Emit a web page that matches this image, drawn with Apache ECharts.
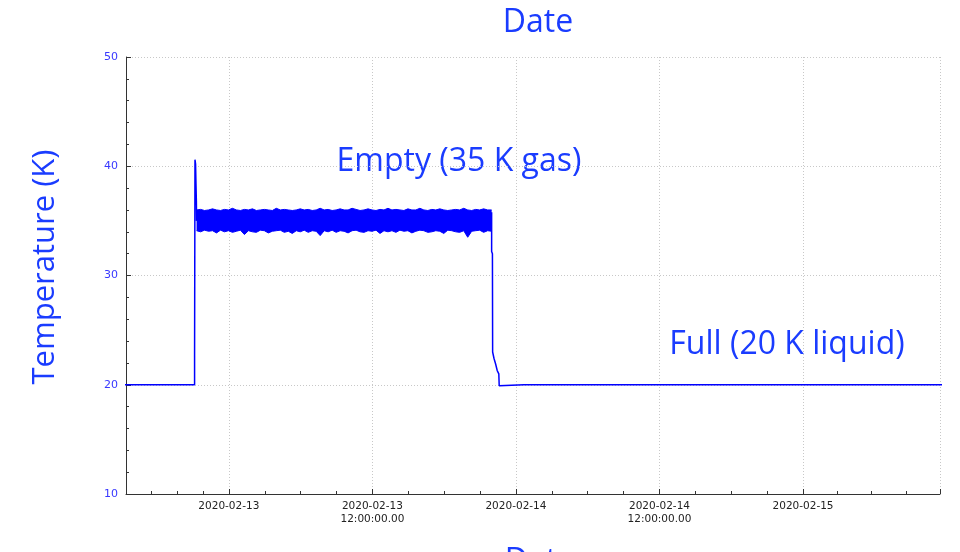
<!DOCTYPE html>
<html>
<head>
<meta charset="utf-8">
<script src="https://cdn.jsdelivr.net/npm/echarts@6/dist/echarts.min.js"></script>
<style>
html, body { margin: 0; background: #fff; }
#chart { width: 960px; height: 552px; }
</style>
</head>
<body>
<div id="chart"></div>
<script>
// baseline at 20 K, then the jump to the gas plateau
const riseData = [
    ['2020-02-12 12:00', 20], ['2020-02-12 21:08', 20], ['2020-02-12 21:08', 22.6],
    ['2020-02-12 21:10', 22.6], ['2020-02-12 21:10', 40.6], ['2020-02-12 21:13', 40.2],
    ['2020-02-12 21:15', 38.4], ['2020-02-12 21:17', 36.8], ['2020-02-12 21:18', 35.0]
]

// noisy plateau: upper / lower envelope, one reading every 20 min
const bandStart = '2020-02-12 21:18'
const bandStepMin = 20
const bandHigh = [
    36.0, 36.05, 35.95, 36.0, 36.1, 36.0, 35.95, 36.05, 36.0, 36.15, 36.0, 35.95, 36.05, 36.0, 36.1,
    35.95, 36.0, 36.05, 36.0, 35.95, 36.15, 36.0, 36.05, 36.0, 35.95, 36.0, 36.1, 36.0, 36.05, 35.95,
    36.0, 36.15, 36.0, 36.05, 35.95, 36.0, 36.1, 36.0, 36.0, 36.15, 36.05, 35.95, 36.0, 36.1, 36.0,
    35.95, 36.05, 36.0, 36.15, 36.0, 36.05, 36.0, 35.95, 36.1, 36.0, 36.0, 36.15, 36.0, 35.95, 36.05,
    36.0, 36.1, 36.0, 35.95, 36.0, 36.05, 36.0, 36.15, 36.0, 35.95, 36.05, 36.0, 36.1, 36.0, 36.0
]
const bandLow = [
    34.1, 34.0, 34.15, 34.05, 34.1, 33.9, 34.15, 34.0, 34.1, 33.95, 34.05, 34.15, 33.75, 34.1, 34.0,
    33.95, 34.15, 34.1, 33.9, 34.05, 34.1, 34.15, 33.95, 34.05, 33.85, 34.1, 34.0, 34.15, 33.95, 34.1,
    34.05, 33.65, 34.1, 34.0, 34.15, 33.95, 34.1, 34.05, 33.9, 34.1, 34.15, 34.0, 33.95, 34.1, 34.05,
    34.15, 33.85, 34.1, 34.0, 34.1, 33.95, 34.15, 34.05, 34.1, 33.9, 34.05, 34.15, 34.1, 33.95, 34.0,
    34.1, 34.05, 33.85, 34.15, 34.1, 34.0, 33.95, 34.1, 33.5, 34.05, 34.1, 34.15, 33.95, 34.1, 34.05
]

// drop back to liquid at 20 K
const fallData = [
    ['2020-02-13 21:58', 35.8], ['2020-02-13 21:58', 32.2], ['2020-02-13 22:02', 32.0],
    ['2020-02-13 22:03', 23.0], ['2020-02-13 22:10', 22.4], ['2020-02-13 22:18', 21.9],
    ['2020-02-13 22:26', 21.3], ['2020-02-13 22:34', 21.0], ['2020-02-13 22:36', 19.9],
    ['2020-02-13 22:40', 20.0], ['2020-02-14 00:40', 20.0], ['2020-02-14 00:45', 20.06],
    ['2020-02-14 00:50', 20.0], ['2020-02-14 03:10', 20.0], ['2020-02-14 03:15', 20.05],
    ['2020-02-14 03:20', 20.0], ['2020-02-15 12:00', 20.0]
]

const xMin = '2020-02-12 15:24'
const xMax = '2020-02-15 11:27'
const yTicks = [10, 50, 10]   // min, max, step

const BLUE = '#0000ff'
const TEXT_BLUE = '#1a3cff'
const BIG_FONT = '"Open Sans"'

// stacked band: lower edge + span on top of it
const t0 = new Date(bandStart.replace(' ', 'T')).getTime()
const bandTimes = bandHigh.map((v, i) => t0 + i * bandStepMin * 60000)
const lowSeries = bandLow.map((v, i) => [bandTimes[i], v])
const spanSeries = bandHigh.map((v, i) => [bandTimes[i], +(v - bandLow[i]).toFixed(2)])

function fmtLabel(value) {
    const d = new Date(value)
    const p = n => String(n).padStart(2, '0')
    const day = d.getFullYear() + '-' + p(d.getMonth() + 1) + '-' + p(d.getDate())
    return d.getHours() === 12 ? day + '\n12:00:00.00' : day
}

const chart = echarts.init(document.getElementById('chart'))
chart.setOption({
    animation: false,
    grid: { left: 126, right: 20, top: 57, bottom: 58, outerBoundsMode: 'none' },
    xAxis: {
        type: 'time',
        min: xMin,
        max: xMax,
        // 14h approx -> the time scale picks 12h steps
        minInterval: 14 * 3600 * 1000,
        maxInterval: 14 * 3600 * 1000,
        name: 'Date',
        nameLocation: 'middle',
        nameGap: 52,
        nameTextStyle: { fontSize: 32, color: TEXT_BLUE, fontFamily: 'Open Sans', padding: [0, 0, 0, 14] },
        axisLine: { lineStyle: { color: '#333', width: 1 } },
        axisTick: { inside: true, length: 5, lineStyle: { color: '#333' } },
        minorTick: { show: true, splitNumber: 4, length: 3, lineStyle: { color: '#333' } },
        splitLine: { show: true, lineStyle: { color: '#c8c8c8', type: [1, 2] } },
        axisLabel: {
            formatter: fmtLabel,
            color: '#222',
            fontSize: 10.5,
            fontFamily: 'DejaVu Sans',
            lineHeight: 13,
            margin: 6,
            showMinLabel: false,
            showMaxLabel: false
        }
    },
    yAxis: {
        type: 'value',
        min: yTicks[0],
        max: yTicks[1],
        interval: yTicks[2],
        axisLine: { show: true, lineStyle: { color: '#333', width: 1 } },
        axisTick: { show: true, inside: true, length: 5, lineStyle: { color: '#333' } },
        minorTick: { show: true, splitNumber: 5, length: 3, lineStyle: { color: '#333' } },
        splitLine: { show: true, lineStyle: { color: '#c8c8c8', type: [1, 2] } },
        axisLabel: { color: '#3838ff', fontSize: 11, fontFamily: 'DejaVu Sans', margin: 8 }
    },
    graphic: [
        { type: 'text', x: 538, y: 23, style: { text: 'Date', fill: TEXT_BLUE, font: '32px ' + BIG_FONT, textAlign: 'center', textVerticalAlign: 'middle' } },
        { type: 'text', x: 45, y: 267, rotation: Math.PI / 2, style: { text: 'Temperature (K)', fill: TEXT_BLUE, font: '31px ' + BIG_FONT, textAlign: 'center', textVerticalAlign: 'middle' } },
        { type: 'text', x: 459, y: 162, style: { text: 'Empty (35 K gas)', fill: TEXT_BLUE, font: '32px ' + BIG_FONT, textAlign: 'center', textVerticalAlign: 'middle' } },
        { type: 'text', x: 787, y: 345, style: { text: 'Full (20 K liquid)', fill: TEXT_BLUE, font: '32px ' + BIG_FONT, textAlign: 'center', textVerticalAlign: 'middle' } }
    ],
    series: [
        {
            name: 'rise', type: 'line', data: riseData, showSymbol: false,
            lineStyle: { color: BLUE, width: 1.5 }
        },
        {
            name: 'bandLow', type: 'line', stack: 'band', data: lowSeries, showSymbol: false,
            lineStyle: { color: BLUE, width: 1 }
        },
        {
            name: 'bandSpan', type: 'line', stack: 'band', data: spanSeries, showSymbol: false,
            lineStyle: { color: BLUE, width: 1 },
            areaStyle: { color: BLUE, opacity: 1 }
        },
        {
            name: 'fall', type: 'line', data: fallData, showSymbol: false,
            lineStyle: { color: BLUE, width: 1.5 }
        }
    ]
})
</script>
</body>
</html>
